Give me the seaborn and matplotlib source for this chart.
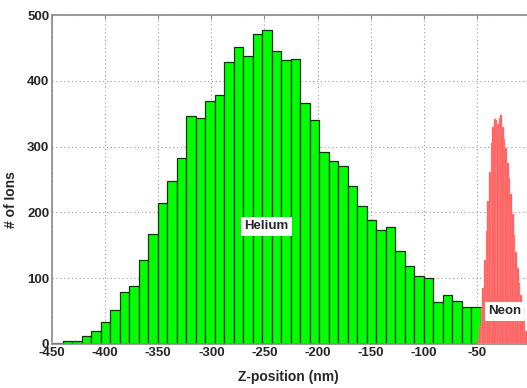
import numpy as np
import pandas as pd
import matplotlib
matplotlib.use("Agg")
import matplotlib.pyplot as plt
import seaborn as sns

# Helium histogram (45 bins from -449 to -46.6 nm)
helium_start = -449.0
helium_end = -46.6
helium_counts = [2, 4, 5, 12, 20, 33, 52, 79, 88, 127, 167, 215, 248, 283, 346,
                 344, 370, 378, 428, 452, 437, 471, 477, 445, 431, 433, 366, 341,
                 292, 278, 270, 240, 209, 188, 174, 178, 141, 119, 103, 100, 64,
                 74, 66, 56, 56]

# Neon histogram (narrow bins from -49.5 nm)
neon_start = -49.5
neon_end = -3.0
neon_counts = [8, 28, 55, 85, 128, 172, 218, 262, 305, 330, 342, 340, 335, 344,
               348, 330, 312, 298, 275, 252, 228, 198, 165, 140, 115, 92, 75, 55,
               35, 20]

x_ticks = [-450, -400, -350, -300, -250, -200, -150, -100, -50, 0]
y_ticks = [0, 100, 200, 300, 400, 500]

sns.set_style("white")
plt.rcParams['font.family'] = ['Liberation Sans', 'DejaVu Sans']
plt.rcParams['font.weight'] = 'bold'

fig = plt.figure(figsize=(5.27, 3.88), dpi=100)
ax = fig.add_axes([52 / 527, (388 - 344) / 388, 478 / 527, (344 - 15) / 388])

he_edges = np.linspace(helium_start, helium_end, len(helium_counts) + 1)
he_centers = (he_edges[:-1] + he_edges[1:]) / 2
ne_edges = np.linspace(neon_start, neon_end, len(neon_counts) + 1)
ne_centers = (ne_edges[:-1] + ne_edges[1:]) / 2

he_df = pd.DataFrame({"z": he_centers, "n": np.array(helium_counts, dtype=float)})
ne_df = pd.DataFrame({"z": ne_centers, "n": np.array(neon_counts, dtype=float)})

sns.histplot(data=he_df, x="z", weights="n", bins=list(he_edges), ax=ax,
             color="#00ff00", alpha=1, edgecolor="#123012", linewidth=0.9, zorder=2)
sns.histplot(data=ne_df, x="z", weights="n", bins=list(ne_edges), ax=ax,
             color="#ff5a5a", alpha=1, edgecolor="#ff8e8e", linewidth=0.3, zorder=3)

ax.set_xlim(-450, 0)
ax.set_ylim(0, 500)
ax.set_xticks(x_ticks)
ax.set_yticks(y_ticks)
ax.set_xticklabels([str(t) for t in x_ticks], fontsize=9.5, fontweight='bold')
ax.set_yticklabels([str(t) for t in y_ticks], fontsize=9.5, fontweight='bold')
ax.tick_params(direction='in', length=3, color='#888888', pad=2, top=True, right=True)
ax.set_axisbelow(True)
ax.grid(True, linestyle=(0, (1, 2.5)), color='#9a9a9a', linewidth=0.8)
for s in ax.spines.values():
    s.set_color('#8a8a8a')
    s.set_linewidth(1.2)

ax.set_xlabel("Z-position (nm)", fontsize=10, fontweight='bold')
ax.set_ylabel("# of Ions", fontsize=10, fontweight='bold')
ax.xaxis.set_label_coords((288 - 52) / 478, -0.08)
ax.yaxis.set_label_coords(-(52 - 18) / 478, 0.44)

ax.text(-248, 179, "Helium", ha='center', va='center', fontsize=9.5, fontweight='bold',
        bbox=dict(facecolor='white', edgecolor='none', pad=2.5), zorder=5)
ax.text(-24, 50, "Neon", ha='center', va='center', fontsize=9.5, fontweight='bold',
        bbox=dict(facecolor='white', edgecolor='none', pad=2.5), zorder=5)

fig.savefig("out.png", dpi=100)
